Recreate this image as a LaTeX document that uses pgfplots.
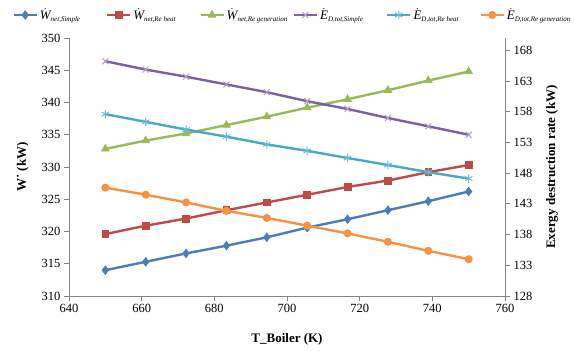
\documentclass[border=0pt]{standalone}
\usepackage{amsmath}
\usepackage{fontspec}
\setmainfont{Liberation Serif}
\usepackage{pgfplots}
\pgfplotsset{compat=1.18}
\definecolor{cBlue}{HTML}{4A7EBB}
\definecolor{cRed}{HTML}{BE4B48}
\definecolor{cGreen}{HTML}{98B954}
\definecolor{cPurple}{HTML}{7D60A0}
\definecolor{cCyan}{HTML}{46AAC5}
\definecolor{cOrange}{HTML}{F69240}
\definecolor{axgray}{HTML}{868686}
\newcommand{\sub}[1]{\text{\fontsize{7}{8}\selectfont\itshape #1}}
\newcommand{\lent}[2]{\makebox[64pt][l]{$\dot{\textit{#1}}_{\sub{#2}}$}}
\pgfplotsset{
  base/.style={
    scale only axis, width=436pt, height=258pt,
    at={(0pt,0pt)}, anchor=south west,
    xmin=640, xmax=760,
    axis line style={draw=axgray, line width=0.8pt},
    tick style={draw=axgray, line width=0.8pt},
    tick align=outside, major tick length=5pt,
    ticklabel style={font=\rmfamily\fontsize{12.5}{14}\selectfont},
    /pgf/number format/assume math mode=true,
    label style={font=\fontsize{13}{15}\selectfont\bfseries},
  },
  ser/.style={line width=2.4pt, mark options={solid, line width=0.8pt}},
  sA/.style={ser, cBlue, mark=diamond*, mark size=4.2pt},
  sB/.style={ser, cRed, mark=square*, mark size=3.4pt},
  sC/.style={ser, cGreen, mark=triangle*, mark size=4.3pt},
  sD/.style={ser, cPurple, mark=x, mark size=4.2pt, mark options={draw=cPurple!60, line width=1pt}},
  sE/.style={ser, cCyan, mark=asterisk, mark size=4.2pt, mark options={draw=cCyan!80, line width=1pt}},
  sF/.style={ser, cOrange, mark=*, mark size=3.6pt},
}
\begin{document}
\begin{tikzpicture}
\useasboundingbox (-69pt,-55pt) rectangle (505pt,296pt);
\begin{axis}[base,
  axis x line*=bottom, axis y line*=left,
  ymin=310, ymax=350,
  xtick={640,660,...,760}, ytick={310,315,...,350},
  xlabel={T\_Boiler (K)}, ylabel={W˙ (kW)},
  xlabel style={at={(axis description cs:0.5,-0.17)}, anchor=center},
  ylabel style={at={(axis description cs:-0.106,0.5)}, anchor=center},
]
\addplot[sA] coordinates {(650,314.0)(661.11,315.3)(672.22,316.6)(683.33,317.8)(694.44,319.1)(705.56,320.6)(716.67,321.9)(727.78,323.3)(738.89,324.7)(750,326.2)};
\addplot[sB] coordinates {(650,319.6)(661.11,320.9)(672.22,322.0)(683.33,323.3)(694.44,324.5)(705.56,325.7)(716.67,326.9)(727.78,327.9)(738.89,329.2)(750,330.3)};
\addplot[sC] coordinates {(650,332.8)(661.11,334.1)(672.22,335.2)(683.33,336.5)(694.44,337.8)(705.56,339.2)(716.67,340.5)(727.78,341.9)(738.89,343.4)(750,344.8)};
\end{axis}
\begin{axis}[base,
  axis x line=none, axis y line*=right,
  ymin=128, ymax=170,
  ytick={128,133,...,168},
  ylabel={Exergy destruction rate (kW)},
  ylabel style={at={(axis description cs:1.108,0.5)}, anchor=center},
  legend columns=6,
  legend style={draw=none, fill=none, at={(axis description cs:-0.13,1.089)}, anchor=west,
    font=\fontsize{13}{15}\selectfont, inner sep=0pt,
    /tikz/every even column/.style={column sep=0pt}},
  legend image code/.code={\draw[#1, mark repeat=2, mark phase=2] plot coordinates {(0pt,0pt)(11.5pt,0pt)(23pt,0pt)};},
]
\addlegendimage{sA}\addlegendentry{\lent{W}{net,Simple}}
\addlegendimage{sB}\addlegendentry{\lent{W}{net,Re heat}}
\addlegendimage{sC}\addlegendentry{\lent{W}{net,Re generation}}
\addplot[sD] coordinates {(650,166.22)(661.11,164.86)(672.22,163.7)(683.33,162.44)(694.44,161.18)(705.56,159.71)(716.67,158.45)(727.78,156.98)(738.89,155.62)(750,154.25)};
\addlegendentry{\lent{E}{D,tot,Simple}}
\addplot[sE] coordinates {(650,157.61)(661.11,156.35)(672.22,155.09)(683.33,153.94)(694.44,152.68)(705.56,151.63)(716.67,150.47)(727.78,149.32)(738.89,148.16)(750,147.11)};
\addlegendentry{\lent{E}{D,tot,Re heat}}
\addplot[sF] coordinates {(650,145.64)(661.11,144.49)(672.22,143.23)(683.33,141.86)(694.44,140.71)(705.56,139.45)(716.67,138.19)(727.78,136.82)(738.89,135.35)(750,133.99)};
\addlegendentry{$\dot{\textit{E}}_{\sub{D,tot,Re generation}}$}
\end{axis}
\end{tikzpicture}
\end{document}
